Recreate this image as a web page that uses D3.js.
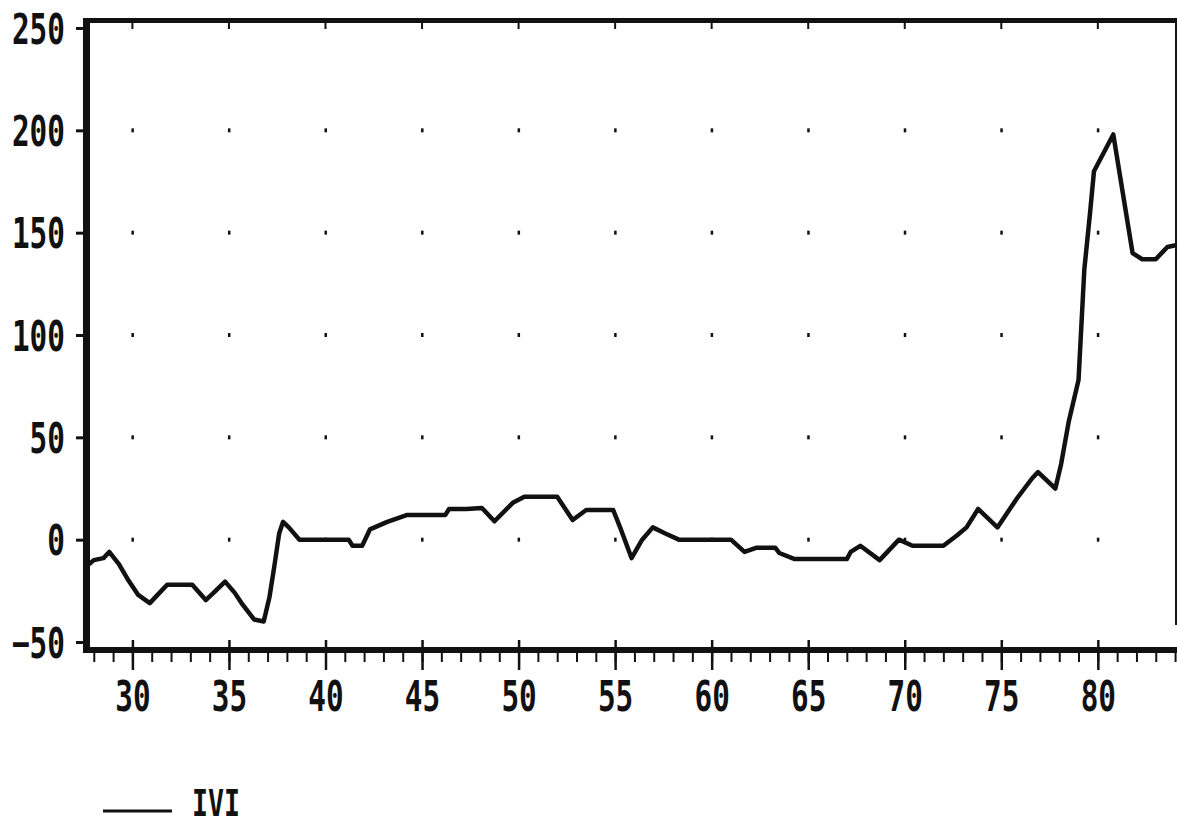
<!DOCTYPE html>
<html>
<head>
<meta charset="utf-8">
<script src="https://cdn.jsdelivr.net/npm/d3@7"></script>
<style>
  html, body { margin: 0; padding: 0; background: #fff; }
  svg { display: block; }
  .lbl { font-family: "DejaVu Sans Mono", "Liberation Mono", monospace; font-weight: bold; fill: #111; }
</style>
</head>
<body>
<svg id="chart" width="1177" height="828"></svg>
<script>
// Series IVI: year (19xx) and index value
const years = [27.75, 28.0, 28.5, 28.8, 29.3, 29.8, 30.3, 30.9, 31.4, 31.8, 33.1, 33.8, 34.2, 34.8,
  35.3, 35.65, 36.3, 36.8, 37.1, 37.35, 37.6, 37.8, 38.1, 38.65, 41.2, 41.4, 41.9, 42.3, 43.2, 44.2,
  46.2, 46.4, 47.3, 48.1, 48.75, 49.7, 50.3, 52.0, 52.8, 53.5, 54.9, 55.3, 55.85, 56.4, 56.95, 57.6,
  58.3, 61.0, 61.7, 62.3, 63.3, 63.5, 64.3, 67.0, 67.2, 67.7, 68.7, 69.7, 70.4, 72.0, 72.7, 73.2,
  73.8, 74.8, 75.8, 76.6, 76.9, 77.8, 78.1, 78.5, 79.0, 79.3, 79.6, 79.8, 80.8, 81.8, 82.3, 83.0,
  83.6, 84.1];
const ivi = [-12, -10, -9, -6, -12, -20, -27, -31, -26, -22, -22, -29.5, -26, -20.5,
  -26, -31, -39, -40, -28, -13, 3, 8.7, 6, 0, 0, -3, -3, 5, 8.7, 12,
  12, 15, 15, 15.5, 9, 18, 21, 21, 9.6, 14.5, 14.5, 5, -9, 0, 6, 3,
  0, 0, -6, -4, -4, -6.5, -9.5, -9.5, -6, -3, -10, 0, -3, -3, 2, 6,
  15, 6, 20, 30, 33, 25, 37, 58, 78, 132, 160, 180, 198, 140, 137, 137,
  143, 144];

const xMajor = [30, 35, 40, 45, 50, 55, 60, 65, 70, 75, 80];
const xMinor = d3.range(28, 85, 1);
const yTicks = [-50, 0, 50, 100, 150, 200, 250];
const xDomain = [27.7, 84.1];
const yDomain = [-50, 250];
const seriesName = "IVI";

const svg = d3.select("#chart");
const x = d3.scaleLinear().domain(xDomain).range([88, 1177]);
const y = d3.scaleLinear().domain(yDomain).range([642, 28]);
const ink = "#111";
const fontSize = 42;
const squeeze = "scale(0.7,1)";

// grid dots at major intersections
const dots = [];
xMajor.forEach(a => yTicks.filter(b => b > -50 && b < 250).forEach(b => dots.push([a, b])));
svg.append("g").selectAll("rect").data(dots).join("rect")
  .attr("x", d => x(d[0]) - 1).attr("y", d => y(d[1]) - 2)
  .attr("width", 2.5).attr("height", 4).attr("fill", ink);

// frame: top and right
svg.append("line").attr("x1", 83).attr("x2", 1177).attr("y1", 20.5).attr("y2", 20.5)
  .attr("stroke", ink).attr("stroke-width", 5);
svg.append("line").attr("x1", 1176).attr("x2", 1176).attr("y1", 18).attr("y2", 625)
  .attr("stroke", ink).attr("stroke-width", 2);

// top border ticks
svg.append("g").selectAll("line").data(xMajor).join("line")
  .attr("x1", d => x(d)).attr("x2", d => x(d)).attr("y1", 22).attr("y2", 29)
  .attr("stroke", ink).attr("stroke-width", 2);

// x axis: thick baseline with minor and major ticks
const xAxisMinor = d3.axisBottom(x).tickValues(xMinor).tickSize(10).tickFormat("");
const gxMinor = svg.append("g").attr("transform", "translate(0,652)").call(xAxisMinor);
gxMinor.select(".domain").remove();
gxMinor.selectAll(".tick line").attr("stroke", ink).attr("stroke-width", 2);

const xAxisMajor = d3.axisBottom(x).tickValues(xMajor).tickSize(27).tickFormat(d3.format("d"));
const gx = svg.append("g").attr("transform", "translate(0,643)").call(xAxisMajor);
gx.select(".domain").remove();
gx.selectAll(".tick line").attr("stroke", ink).attr("stroke-width", 2.5).attr("y1", -3);
gx.selectAll(".tick text")
  .attr("class", "lbl")
  .attr("y", 0).attr("dy", 0)
  .attr("font-size", fontSize)
  .attr("transform", "translate(0,68) " + squeeze)
  .attr("text-anchor", "middle");

svg.append("line").attr("x1", 83).attr("x2", 1177).attr("y1", 650).attr("y2", 650)
  .attr("stroke", ink).attr("stroke-width", 6);

// y axis
const yAxis = d3.axisLeft(y).tickValues(yTicks).tickSize(8).tickPadding(0).tickFormat(d3.format("d"));
const gy = svg.append("g").attr("transform", "translate(84,0)").call(yAxis);
gy.select(".domain").remove();
gy.selectAll(".tick line").attr("stroke", ink).attr("stroke-width", 3);
gy.selectAll(".tick text")
  .attr("class", "lbl")
  .attr("x", 0).attr("dy", 0)
  .attr("font-size", fontSize)
  .attr("text-anchor", "end")
  .attr("transform", "translate(-19,15) " + squeeze);

svg.append("line").attr("x1", 86.5).attr("x2", 86.5).attr("y1", 18).attr("y2", 653)
  .attr("stroke", ink).attr("stroke-width", 7);

// series line
const line = d3.line().x((d, i) => x(years[i])).y(d => y(d));
svg.append("path").datum(ivi)
  .attr("d", line)
  .attr("fill", "none").attr("stroke", ink).attr("stroke-width", 4.5)
  .attr("stroke-linejoin", "round");

// legend
svg.append("line").attr("x1", 103).attr("x2", 172).attr("y1", 811).attr("y2", 811)
  .attr("stroke", ink).attr("stroke-width", 3);
svg.append("text").attr("class", "lbl")
  .attr("font-size", 38)
  .attr("transform", "translate(192,816) " + squeeze)
  .text(seriesName);
</script>
</body>
</html>
